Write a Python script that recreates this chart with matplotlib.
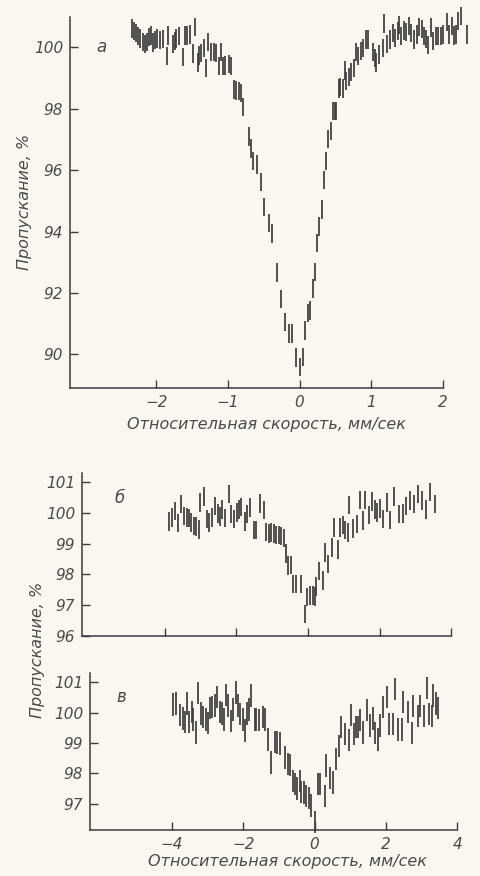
import numpy as np
import matplotlib.pyplot as plt
import matplotlib

matplotlib.rcParams['font.family'] = ['DejaVu Sans']
matplotlib.rcParams['font.style'] = 'italic'

INK = '#3c3c3c'
PAPER = '#f9f7ef'

# panel "а": velocity (mm/s) and transmission (%)
a_vel = [-2.33, -2.31, -2.28, -2.25, -2.22, -2.19, -2.16, -2.13, -2.10, -2.07, -2.04, -2.01, -1.99, -1.95,
         -1.90, -1.85, -1.83, -1.77, -1.74, -1.72, -1.68, -1.62, -1.60, -1.57, -1.53, -1.48, -1.46, -1.42,
         -1.40, -1.37, -1.33, -1.30, -1.28, -1.24, -1.20, -1.17, -1.13, -1.10, -1.07, -1.04, -0.99, -0.95,
         -0.91, -0.89, -0.85, -0.82, -0.79, -0.71, -0.68, -0.65, -0.59, -0.54, -0.49, -0.43, -0.38, -0.31,
         -0.26, -0.20, -0.15, -0.11, -0.05, 0.00, 0.05, 0.08, 0.12, 0.15, 0.18, 0.22, 0.24, 0.27, 0.31,
         0.34, 0.37, 0.40, 0.44, 0.47, 0.49, 0.51, 0.55, 0.57, 0.60, 0.63, 0.65, 0.69, 0.72, 0.76, 0.78,
         0.82, 0.85, 0.89, 0.92, 0.96, 1.02, 1.05, 1.07, 1.11, 1.16, 1.17, 1.22, 1.26, 1.30, 1.33, 1.37,
         1.39, 1.42, 1.45, 1.49, 1.53, 1.56, 1.59, 1.63, 1.67, 1.70, 1.73, 1.76, 1.79, 1.83, 1.86, 1.90,
         1.93, 1.97, 2.00, 2.05, 2.09, 2.12, 2.15, 2.18, 2.21, 2.25, 2.33]
a_val = [100.62, 100.53, 100.46, 100.36, 100.29, 100.18, 100.10, 100.18, 100.34, 100.39, 100.16, 100.23,
         100.29, 100.23, 100.28, 99.71, 100.39, 100.10, 100.21, 100.29, 100.37, 99.69, 100.39, 100.39,
         100.42, 99.80, 100.67, 99.50, 99.74, 99.82, 99.98, 99.32, 100.18, 99.85, 99.85, 99.82, 99.40,
         99.85, 99.40, 99.41, 99.45, 99.40, 98.63, 98.60, 98.58, 98.52, 98.05, 97.10, 96.71, 96.30, 96.19,
         95.62, 94.80, 94.27, 93.94, 92.67, 91.80, 91.06, 90.68, 90.68, 89.90, 89.59, 89.92, 90.78, 91.34,
         91.43, 92.15, 92.69, 93.63, 94.17, 94.72, 95.67, 96.30, 97.02, 97.28, 97.93, 97.93, 97.93, 98.66,
         98.70, 98.66, 99.25, 98.91, 99.04, 99.20, 99.33, 99.84, 99.72, 99.89, 99.98, 100.26, 100.26,
         99.85, 99.66, 99.50, 99.77, 99.98, 100.78, 100.10, 100.26, 100.46, 100.31, 100.54, 100.72, 100.37,
         100.55, 100.50, 100.70, 100.47, 100.26, 100.42, 100.67, 100.59, 100.37, 100.28, 100.07, 100.64,
         100.21, 100.37, 100.37, 100.37, 100.42, 100.83, 100.42, 100.70, 100.39, 100.42, 100.86, 101.03,
         100.42]
a_err = 0.3

# panel "б"
b_vel = [-3.88, -3.79, -3.70, -3.63, -3.53, -3.45, -3.38, -3.32, -3.25, -3.18, -3.12, -3.05, -3.01, -2.90,
         -2.81, -2.75, -2.68, -2.58, -2.51, -2.46, -2.39, -2.31, -2.20, -2.14, -2.06, -1.98, -1.92, -1.86,
         -1.76, -1.70, -1.61, -1.51, -1.44, -1.34, -1.23, -1.16, -1.08, -1.02, -0.94, -0.88, -0.81, -0.74,
         -0.67, -0.62, -0.55, -0.48, -0.41, -0.34, -0.20, -0.08, -0.02, 0.06, 0.13, 0.20, 0.24, 0.32, 0.41,
         0.48, 0.57, 0.66, 0.74, 0.83, 0.90, 0.99, 1.04, 1.11, 1.15, 1.27, 1.36, 1.46, 1.55, 1.60, 1.72,
         1.78, 1.88, 1.94, 2.02, 2.11, 2.20, 2.28, 2.41, 2.53, 2.65, 2.75, 2.84, 2.95, 3.06, 3.18, 3.31,
         3.42, 3.56]
b_val = [99.72, 99.85, 100.07, 99.67, 100.29, 99.91, 99.85, 99.83, 99.69, 99.58, 99.56, 99.47, 100.34,
         100.53, 99.80, 99.69, 99.85, 100.23, 99.99, 99.88, 100.12, 99.83, 100.61, 99.96, 99.80, 100.02,
         100.12, 100.20, 99.72, 99.96, 100.18, 99.45, 99.45, 100.31, 100.10, 99.39, 99.34, 99.37, 99.34,
         99.29, 99.29, 99.26, 99.18, 98.69, 98.29, 98.30, 97.69, 97.69, 97.69, 96.72, 97.26, 97.31, 97.31,
         97.28, 97.61, 98.12, 97.80, 98.72, 98.34, 98.88, 99.53, 98.82, 99.53, 99.61, 99.45, 99.37, 100.26,
         99.50, 99.64, 100.42, 99.75, 100.42, 99.94, 100.37, 100.12, 100.02, 100.15, 99.80, 100.34, 99.77,
         100.53, 99.96, 99.99, 100.23, 100.40, 100.29, 100.61, 100.40, 100.12, 100.69, 100.29]
b_err = 0.3

# panel "в"
c_vel = [-3.96, -3.88, -3.77, -3.70, -3.63, -3.58, -3.51, -3.44, -3.40, -3.32, -3.28, -3.18, -3.12, -3.05,
         -3.00, -2.93, -2.87, -2.79, -2.73, -2.65, -2.61, -2.53, -2.49, -2.42, -2.35, -2.30, -2.21, -2.14,
         -2.09, -2.02, -1.96, -1.89, -1.84, -1.77, -1.68, -1.63, -1.56, -1.46, -1.40, -1.30, -1.21, -1.12,
         -1.05, -0.96, -0.84, -0.75, -0.68, -0.61, -0.54, -0.49, -0.42, -0.37, -0.31, -0.23, -0.16, -0.09,
         0.00, 0.09, 0.16, 0.28, 0.33, 0.44, 0.51, 0.59, 0.68, 0.74, 0.84, 0.96, 1.02, 1.10, 1.16, 1.23,
         1.28, 1.37, 1.47, 1.56, 1.63, 1.70, 1.77, 1.83, 1.91, 2.02, 2.08, 2.19, 2.26, 2.35, 2.45, 2.49,
         2.61, 2.72, 2.77, 2.89, 2.95, 3.07, 3.15, 3.21, 3.28, 3.33, 3.40, 3.47]
c_val = [100.27, 100.30, 99.92, 99.81, 99.70, 100.30, 99.70, 100.03, 99.78, 99.35, 100.65, 99.97, 99.86,
         99.78, 99.65, 100.16, 100.19, 100.24, 100.51, 100.03, 99.97, 99.78, 100.59, 100.24, 99.73, 100.11,
         100.67, 100.24, 99.95, 99.78, 99.41, 99.97, 100.11, 100.56, 99.78, 99.78, 99.76, 99.86, 99.78,
         99.11, 98.36, 99.03, 99.01, 98.98, 98.52, 98.31, 98.28, 97.74, 97.64, 97.50, 97.74, 97.39, 97.36,
         97.26, 97.18, 96.94, 96.40, 97.64, 97.64, 97.26, 98.25, 97.85, 97.69, 98.47, 98.90, 99.52, 99.30,
         99.09, 99.92, 99.30, 99.52, 99.52, 99.76, 99.35, 100.08, 99.57, 99.81, 99.33, 99.11, 99.57,
         100.19, 100.51, 99.62, 99.62, 100.78, 99.44, 99.44, 100.35, 100.03, 99.33, 100.22, 99.89, 100.22,
         99.89, 100.81, 99.95, 99.89, 100.56, 100.30, 100.16]
c_err = 0.37

xlabel = 'Относительная скорость, мм/сек'
ylabel = 'Пропускание, %'


def style_axes(ax):
    for side in ['top', 'right']:
        ax.spines[side].set_visible(False)
    for side in ['left', 'bottom']:
        ax.spines[side].set_color(INK)
        ax.spines[side].set_linewidth(1.1)
    ax.set_facecolor(PAPER)
    ax.tick_params(direction='in', length=5.5, width=1.0, color=INK, labelcolor='#4a4a4a',
                   labelsize=11, pad=5)


def draw_bars(ax, vel, val, err):
    vel = np.array(vel)
    val = np.array(val)
    eb = ax.errorbar(vel, val, yerr=err, fmt='none', ecolor=INK, elinewidth=1.25, capsize=0)
    for art in eb.lines[2]:
        art.set_clip_on(False)


fig = plt.figure(figsize=(4.8, 8.76), dpi=100, facecolor=PAPER)

# а
ax_a = fig.add_axes([0.146, 0.557, 0.777, 0.424])
style_axes(ax_a)
draw_bars(ax_a, a_vel, a_val, a_err)
ax_a.set_xlim(-3.2, 2.0)
ax_a.set_ylim(88.9, 101.0)
ax_a.set_xticks([-2, -1, 0, 1, 2])
ax_a.set_xticklabels(['−2', '−1', '0', '1', '2'])
ax_a.set_yticks([90, 92, 94, 96, 98, 100])
ax_a.text(-2.83, 100.0, 'а', fontsize=12, color='#4a4a4a', va='center')

# б
ax_b = fig.add_axes([0.171, 0.274, 0.769, 0.186])
style_axes(ax_b)
draw_bars(ax_b, b_vel, b_val, b_err)
ax_b.set_xlim(-6.3, 4.0)
ax_b.set_ylim(96.0, 101.3)
ax_b.set_xticks([-4, -2, 0, 2, 4])
ax_b.set_xticklabels([])
ax_b.set_yticks([96, 97, 98, 99, 100, 101])
ax_b.text(-5.4, 100.5, 'б', fontsize=12, color='#4a4a4a', va='center')

# в
ax_c = fig.add_axes([0.1875, 0.0525, 0.765, 0.179])
style_axes(ax_c)
draw_bars(ax_c, c_vel, c_val, c_err)
ax_c.set_xlim(-6.3, 4.0)
ax_c.set_ylim(96.13, 101.3)
ax_c.set_xticks([-4, -2, 0, 2, 4])
ax_c.set_xticklabels(['−4', '−2', '0', '2', '4'])
ax_c.set_yticks([97, 98, 99, 100, 101])
ax_c.text(-5.55, 100.5, 'в', fontsize=12, color='#4a4a4a', va='center')

# axis titles
fig.text(0.555, 0.515, xlabel, fontsize=11.5, color='#4a4a4a', ha='center', va='center')
fig.text(0.598, 0.016, xlabel, fontsize=11.5, color='#4a4a4a', ha='center', va='center')
fig.text(0.052, 0.769, ylabel, fontsize=11.5, color='#4a4a4a', ha='center', va='center', rotation=90)
fig.text(0.079, 0.258, ylabel, fontsize=11.5, color='#4a4a4a', ha='center', va='center', rotation=90)

fig.savefig('out.png', dpi=100, facecolor=PAPER)
